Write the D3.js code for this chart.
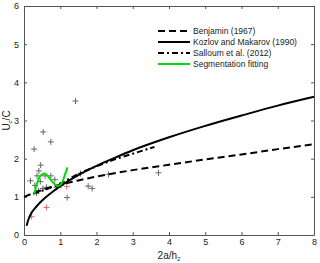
<!DOCTYPE html>
<html>
<head>
<meta charset="utf-8">
<script src="https://cdn.jsdelivr.net/npm/d3@7"></script>
<style>
  body { margin: 0; background: #fff; }
  svg text { font-family: "Liberation Sans", Arial, sans-serif; }
</style>
</head>
<body>
<div id="chart"></div>
<script>
// Curves
const benjaminX = [0, 0.5, 1, 1.5, 2, 3, 4, 5, 6, 7, 8];
const benjaminY = [1.0, 1.18, 1.32, 1.43, 1.53, 1.70, 1.84, 1.98, 2.11, 2.25, 2.38];

const kozlovX = [0.07, 0.12, 0.2, 0.3, 0.45, 0.6, 0.8, 1, 1.5, 2, 2.5, 3, 4, 5, 6, 7, 8];
const kozlovY = [0.24, 0.40, 0.57, 0.70, 0.86, 0.99, 1.14, 1.28, 1.57, 1.81, 2.02, 2.22, 2.56, 2.86, 3.13, 3.39, 3.62];

const salloumX = [0.25, 0.5, 0.75, 1, 1.5, 2, 2.5, 3, 3.6];
const salloumY = [1.08, 1.16, 1.25, 1.35, 1.60, 1.80, 1.98, 2.13, 2.31];

const segX = [0.28, 0.35, 0.42, 0.5, 0.57, 0.65, 0.75, 0.85, 0.93, 1.0, 1.07, 1.13, 1.2];
const segY = [1.07, 1.32, 1.50, 1.59, 1.61, 1.55, 1.43, 1.33, 1.29, 1.31, 1.42, 1.58, 1.77];

// Measured points (gray) and highlighted points (red)
const grayX = [1.42, 0.53, 0.74, 0.28, 0.46, 0.18, 0.41, 0.36, 0.58, 0.74, 0.85, 0.30, 0.45, 0.62, 0.40, 0.52, 0.35, 0.90, 1.02, 1.19, 1.56, 1.77, 1.88, 2.33, 3.71];
const grayY = [3.51, 2.70, 2.44, 2.25, 1.83, 1.42, 1.68, 1.55, 1.55, 1.55, 1.45, 1.30, 1.40, 1.25, 1.15, 1.22, 1.10, 1.25, 1.30, 0.98, 1.61, 1.28, 1.22, 1.59, 1.63];
const redX = [1.18, 0.62, 0.21];
const redY = [1.27, 0.72, 0.48];

const xTicks = [0, 1, 2, 3, 4, 5, 6, 7, 8];
const yTicks = [0, 1, 2, 3, 4, 5, 6];

const legendNames = ['Benjamin (1967)', 'Kozlov and Makarov (1990)', 'Salloum et al. (2012)', 'Segmentation fitting'];

const width = 320, height = 263;
const m = { left: 24, top: 6, right: 6, bottom: 28 };

const svg = d3.select('#chart').append('svg')
  .attr('width', width)
  .attr('height', height);

const x = d3.scaleLinear().domain([0, 8]).range([m.left, width - m.right]);
const y = d3.scaleLinear().domain([0, 6]).range([height - m.bottom, m.top]);

const zip = (xs, ys) => xs.map((v, i) => [v, ys[i]]);
const line = d3.line().x(d => x(d[0])).y(d => y(d[1])).curve(d3.curveMonotoneX);

// Axes with inward ticks on all four sides
const axisStyle = g => {
  g.select('.domain').attr('stroke', '#555');
  g.selectAll('.tick line').attr('stroke', '#555');
  g.selectAll('.tick text').attr('font-size', 9).attr('fill', '#222');
};

svg.append('g')
  .attr('transform', `translate(0,${height - m.bottom})`)
  .call(d3.axisBottom(x).tickValues(xTicks).tickFormat(d3.format('d')).tickSizeInner(-3).tickSizeOuter(0).tickPadding(4))
  .call(axisStyle);
svg.append('g')
  .attr('transform', `translate(0,${m.top})`)
  .call(d3.axisTop(x).tickValues(xTicks).tickFormat('').tickSizeInner(-3).tickSizeOuter(0))
  .call(axisStyle);
svg.append('g')
  .attr('transform', `translate(${m.left},0)`)
  .call(d3.axisLeft(y).tickValues(yTicks).tickFormat(d3.format('d')).tickSizeInner(-3).tickSizeOuter(0).tickPadding(5))
  .call(axisStyle);
svg.append('g')
  .attr('transform', `translate(${width - m.right},0)`)
  .call(d3.axisRight(y).tickValues(yTicks).tickFormat('').tickSizeInner(-3).tickSizeOuter(0))
  .call(axisStyle);

// Plus markers
const plus = (data, color) => {
  svg.append('g').selectAll('path')
    .data(data)
    .enter().append('path')
    .attr('d', d => `M${x(d[0]) - 3},${y(d[1])}h6M${x(d[0])},${y(d[1]) - 3}v6`)
    .attr('stroke', color)
    .attr('stroke-width', 1)
    .attr('fill', 'none');
};
plus(zip(grayX, grayY), '#666');
plus(zip(redX, redY), '#f26a6a');

// Curves
const styles = [
  { data: zip(benjaminX, benjaminY), color: '#000', dash: '7,4' },
  { data: zip(kozlovX, kozlovY), color: '#000', dash: null },
  { data: zip(salloumX, salloumY), color: '#000', dash: '6,3,2,3' },
  { data: zip(segX, segY), color: '#00e000', dash: null }
];

styles.forEach(s => {
  svg.append('path')
    .datum(s.data)
    .attr('d', line)
    .attr('fill', 'none')
    .attr('stroke', s.color)
    .attr('stroke-width', 2)
    .attr('stroke-dasharray', s.dash);
});

// Legend
const legend = svg.append('g');
legendNames.forEach((name, i) => {
  const ly = 31 + i * 11;
  legend.append('line')
    .attr('x1', 158).attr('x2', 190)
    .attr('y1', ly).attr('y2', ly)
    .attr('stroke', styles[i].color)
    .attr('stroke-width', 2)
    .attr('stroke-dasharray', styles[i].dash);
  legend.append('text')
    .attr('x', 193).attr('y', ly + 3)
    .attr('font-size', 8.5)
    .attr('fill', '#222')
    .text(name);
});

// Axis titles
svg.append('text')
  .attr('x', (x(0) + x(8)) / 2)
  .attr('y', 259)
  .attr('text-anchor', 'middle')
  .attr('font-size', 10)
  .attr('fill', '#222')
  .html('2a/h<tspan font-size="6" dy="2">2</tspan>');

svg.append('text')
  .attr('transform', `translate(10,${(y(0) + y(6)) / 2}) rotate(-90)`)
  .attr('text-anchor', 'middle')
  .attr('font-size', 10)
  .attr('fill', '#222')
  .html('U<tspan font-size="6" dy="2">c</tspan><tspan dy="-2">/C</tspan>');
</script>
</body>
</html>
